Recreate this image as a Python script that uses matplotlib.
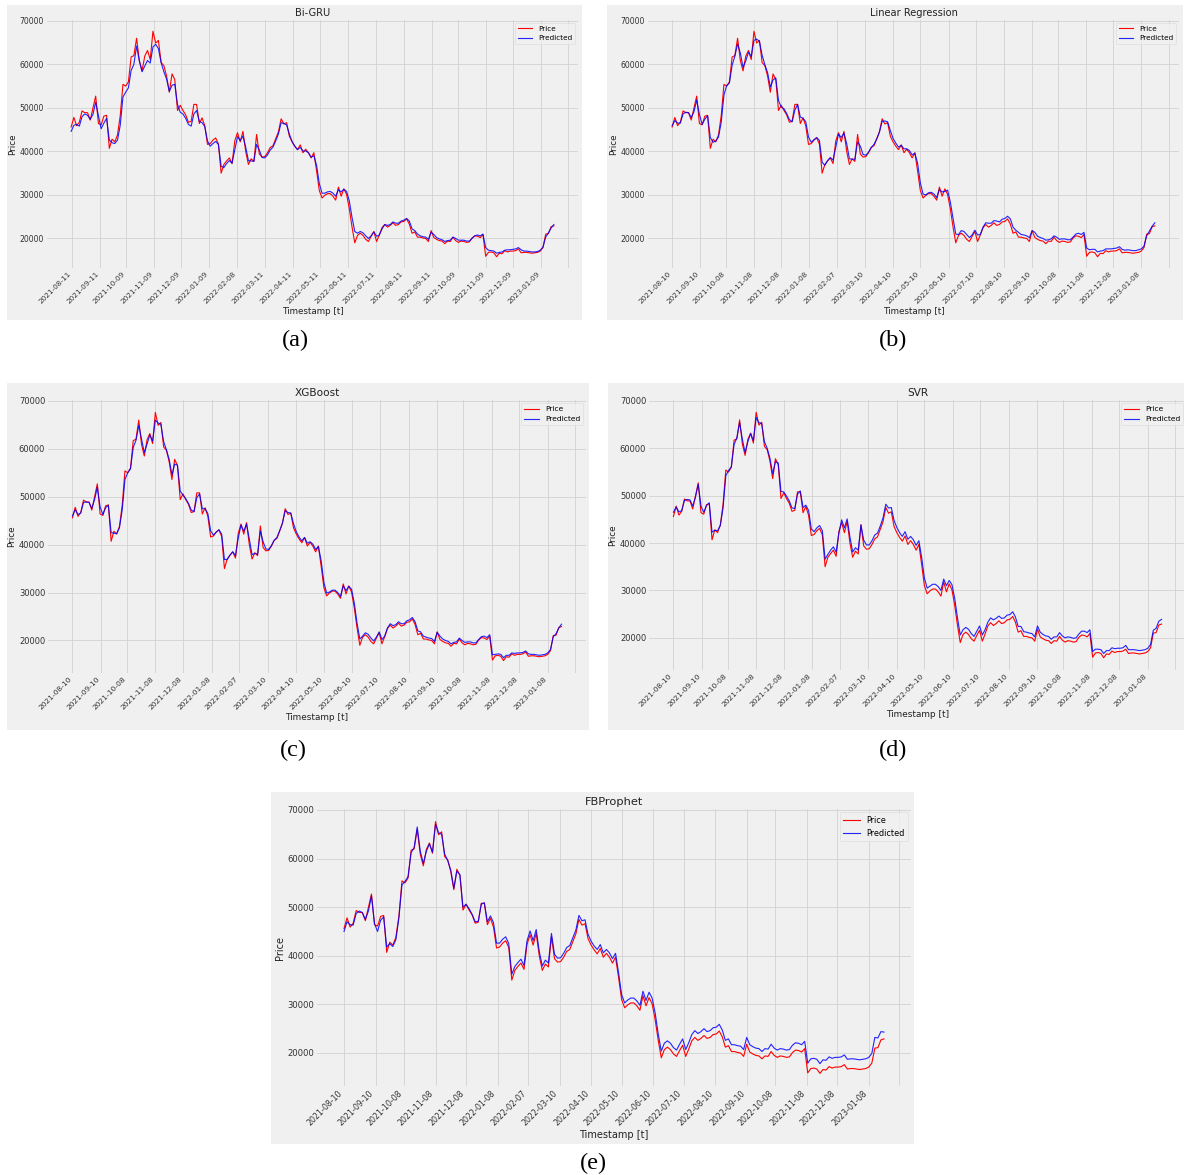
import matplotlib
matplotlib.use("Agg")
import matplotlib.pyplot as plt
import pandas as pd
from matplotlib.patches import Rectangle

# ---------------------------------------------------------------- data
# closing price and model predictions, thousands of USD, one value every 3 days
dates = pd.date_range("2021-08-10", periods=178, freq="3D")

price_k = [
    45.6, 47.8, 45.9, 46.7, 49.3, 48.9, 48.9, 47.2, 50.0, 52.7,
    46.4, 46.1, 48.1, 48.3, 40.7, 42.8, 42.2, 43.8, 48.2, 55.4,
    55.0, 56.0, 61.7, 62.0, 66.0, 60.9, 58.5, 61.9, 63.2, 61.1,
    67.6, 64.9, 65.5, 60.4, 59.7, 57.3, 53.6, 57.8, 56.5, 49.4,
    50.6, 49.4, 48.4, 46.7, 46.9, 50.8, 50.8, 46.4, 47.7, 45.9,
    41.6, 41.8, 42.6, 43.1, 41.7, 35.0, 37.0, 37.8, 38.5, 37.2,
    42.4, 44.3, 42.2, 44.6, 40.0, 37.0, 38.3, 37.7, 43.9, 39.4,
    38.7, 38.8, 39.7, 40.9, 41.3, 42.9, 44.5, 47.5, 46.3, 46.6,
    43.5, 42.2, 41.2, 40.4, 41.5, 39.7, 40.5, 39.7, 38.5, 39.7,
    35.5, 31.0, 29.3, 29.9, 30.3, 30.3, 29.7, 28.8, 31.8, 29.7,
    31.4, 30.1, 26.8, 22.6, 19.0, 20.7, 21.2, 20.7, 19.8, 19.3,
    20.5, 21.6, 19.3, 20.8, 22.5, 23.2, 22.6, 23.0, 23.6, 23.0,
    23.2, 23.8, 23.9, 24.5, 23.3, 21.2, 21.5, 20.3, 20.3, 20.1,
    20.0, 19.3, 21.8, 20.2, 19.8, 19.5, 19.4, 18.8, 19.4, 19.3,
    20.3, 19.5, 19.1, 19.4, 19.3, 19.1, 19.2, 20.1, 20.6, 20.5,
    20.2, 20.9, 15.9, 16.8, 16.9, 16.7, 15.8, 16.6, 16.5, 17.2,
    16.9, 17.1, 17.1, 17.2, 17.6, 16.7, 16.8, 16.8, 16.7, 16.6,
    16.7, 16.8, 17.1, 17.9, 21.0, 21.1, 22.7, 22.9,
]

bigru_k = [
    44.6, 46.0, 46.2, 45.8, 48.0, 48.6, 48.3, 47.4, 48.5, 51.3,
    48.3, 45.2, 46.5, 47.6, 42.6, 42.0, 41.8, 42.6, 46.0, 52.5,
    53.6, 54.6, 58.6, 60.0, 64.2, 60.8, 58.3, 59.6, 60.9, 60.3,
    64.0, 64.6, 63.6, 60.4, 58.3, 56.6, 53.8, 55.2, 55.4, 50.8,
    49.0, 48.6, 47.6, 46.2, 45.8, 48.6, 49.4, 46.9, 46.6, 45.7,
    42.4, 41.2, 41.8, 42.3, 41.6, 36.6, 36.3, 37.2, 37.9, 37.3,
    40.4, 43.4, 42.5, 43.5, 41.0, 37.9, 37.8, 37.7, 41.6, 40.3,
    38.6, 38.5, 39.2, 40.3, 41.0, 42.4, 44.0, 46.6, 46.4, 46.1,
    44.0, 42.3, 41.2, 40.4, 40.9, 40.1, 40.1, 39.7, 38.7, 39.0,
    36.8, 32.6, 30.4, 30.4, 30.7, 30.8, 30.4, 29.7, 31.2, 30.7,
    31.3, 30.8, 28.6, 24.8, 21.6, 21.2, 21.6, 21.3, 20.6, 20.0,
    20.6, 21.5, 20.5, 20.8, 22.2, 23.2, 23.0, 23.2, 23.8, 23.5,
    23.5, 24.0, 24.2, 24.6, 24.0, 22.2, 21.8, 21.0, 20.6, 20.4,
    20.3, 19.8, 21.4, 20.9, 20.2, 19.9, 19.7, 19.3, 19.5, 19.6,
    20.3, 20.0, 19.6, 19.6, 19.6, 19.4, 19.4, 20.0, 20.6, 20.8,
    20.6, 21.0, 17.9, 17.3, 17.2, 17.1, 16.6, 16.8, 16.9, 17.3,
    17.4, 17.4, 17.5, 17.6, 17.9, 17.4, 17.1, 17.1, 17.0, 16.9,
    16.9, 17.0, 17.3, 18.0, 20.3, 21.3, 22.4, 23.2,
]

linreg_k = [
    45.9, 47.1, 46.5, 46.5, 48.6, 49.0, 48.9, 47.8, 49.1, 51.8,
    48.5, 46.2, 47.4, 48.2, 43.2, 42.1, 42.4, 43.3, 46.7, 53.0,
    55.1, 55.7, 59.8, 61.9, 64.7, 62.6, 59.3, 60.8, 62.8, 61.8,
    65.5, 65.8, 65.3, 62.1, 59.9, 58.1, 54.8, 56.4, 56.9, 51.7,
    50.2, 49.8, 48.7, 47.3, 46.8, 49.5, 50.8, 47.9, 47.6, 46.8,
    43.3, 42.1, 42.7, 43.2, 42.5, 37.5, 36.8, 37.9, 38.6, 38.0,
    41.0, 44.0, 43.2, 44.2, 41.8, 38.3, 38.2, 38.2, 42.2, 41.2,
    39.3, 39.1, 39.8, 40.9, 41.6, 42.8, 44.4, 46.9, 47.0, 46.8,
    44.8, 43.0, 41.9, 41.0, 41.4, 40.6, 40.6, 40.2, 39.2, 39.6,
    37.3, 32.8, 30.2, 30.0, 30.5, 30.6, 30.2, 29.4, 31.2, 30.7,
    30.8, 31.1, 28.4, 24.6, 21.0, 20.9, 21.8, 21.6, 20.9, 20.2,
    20.8, 21.9, 20.8, 20.9, 22.6, 23.6, 23.5, 23.5, 24.1, 24.0,
    23.8, 24.4, 24.6, 25.1, 24.5, 22.6, 21.9, 21.4, 20.9, 20.8,
    20.6, 20.2, 21.8, 21.4, 20.5, 20.2, 20.0, 19.6, 19.7, 19.9,
    20.6, 20.3, 19.8, 19.9, 19.9, 19.7, 19.7, 20.3, 21.0, 21.2,
    20.9, 21.4, 17.8, 17.4, 17.5, 17.5, 16.9, 17.1, 17.2, 17.6,
    17.6, 17.6, 17.7, 17.8, 18.1, 17.5, 17.3, 17.4, 17.3, 17.2,
    17.2, 17.4, 17.6, 18.2, 20.6, 21.7, 22.8, 23.6,
]

xgboost_k = [
    46.0, 47.3, 46.3, 46.6, 48.8, 48.9, 48.8, 47.6, 49.4, 52.0,
    47.9, 46.3, 47.7, 48.2, 42.5, 42.4, 42.3, 43.5, 47.2, 53.6,
    55.0, 55.8, 60.3, 61.8, 64.9, 62.1, 59.2, 61.0, 62.9, 61.6,
    66.0, 65.4, 65.1, 61.5, 59.8, 57.8, 54.6, 56.8, 56.6, 51.2,
    50.3, 49.6, 48.6, 47.2, 46.9, 49.8, 50.6, 47.5, 47.5, 46.5,
    42.9, 42.0, 42.6, 43.1, 42.2, 36.9, 36.9, 37.8, 38.5, 37.7,
    41.4, 44.1, 42.8, 44.3, 41.2, 37.9, 38.2, 38.0, 42.8, 40.6,
    39.1, 39.0, 39.8, 40.9, 41.5, 42.9, 44.5, 47.1, 46.7, 46.6,
    44.4, 42.7, 41.6, 40.8, 41.5, 40.3, 40.6, 40.1, 39.0, 39.6,
    36.7, 32.1, 29.9, 30.1, 30.5, 30.5, 30.0, 29.2, 31.4, 30.4,
    31.3, 30.7, 27.8, 23.6, 20.3, 20.9, 21.6, 21.3, 20.5, 19.9,
    20.7, 21.8, 20.2, 20.9, 22.6, 23.5, 23.1, 23.3, 23.9, 23.5,
    23.5, 24.1, 24.3, 24.8, 23.9, 22.0, 21.8, 20.9, 20.7, 20.5,
    20.4, 19.8, 21.7, 20.9, 20.3, 20.0, 19.8, 19.3, 19.6, 19.7,
    20.5, 20.0, 19.6, 19.7, 19.7, 19.5, 19.5, 20.2, 20.8, 20.9,
    20.6, 21.2, 17.0, 17.1, 17.2, 17.1, 16.4, 16.9, 16.9, 17.4,
    17.3, 17.4, 17.4, 17.5, 17.8, 17.2, 17.1, 17.1, 17.0, 16.9,
    17.0, 17.1, 17.4, 18.1, 20.8, 21.4, 22.6, 23.4,
]

svr_k = [
    46.5, 47.6, 46.6, 46.8, 49.0, 49.2, 49.1, 47.8, 49.7, 52.4,
    47.8, 46.5, 47.9, 48.5, 42.3, 42.7, 42.6, 43.7, 47.4, 54.2,
    55.3, 56.1, 60.8, 62.2, 65.4, 61.9, 59.1, 61.4, 63.1, 61.6,
    66.5, 65.4, 65.2, 61.4, 60.0, 57.9, 54.6, 57.2, 56.9, 50.9,
    50.8, 49.9, 48.9, 47.4, 47.3, 50.3, 51.0, 47.5, 48.0, 46.9,
    43.0, 42.4, 43.2, 43.7, 42.6, 36.6, 37.6, 38.5, 39.2, 38.1,
    42.1, 44.9, 43.2, 45.1, 41.3, 38.1, 39.0, 38.5, 43.8, 40.6,
    39.6, 39.6, 40.5, 41.7, 42.1, 43.6, 45.3, 48.2, 47.4, 47.5,
    44.8, 43.3, 42.2, 41.4, 42.4, 40.8, 41.4, 40.7, 39.5, 40.5,
    37.0, 32.6, 30.5, 30.9, 31.3, 31.3, 30.8, 30.0, 32.4, 31.0,
    32.1, 31.2, 28.3, 24.2, 20.6, 21.7, 22.2, 21.8, 20.9, 20.3,
    21.4, 22.5, 20.6, 21.7, 23.3, 24.2, 23.8, 24.1, 24.6, 24.1,
    24.2, 24.8, 24.9, 25.5, 24.4, 22.4, 22.4, 21.3, 21.2, 21.0,
    20.9, 20.2, 22.5, 21.2, 20.7, 20.4, 20.3, 19.7, 20.2, 20.2,
    21.1, 20.4, 20.0, 20.2, 20.1, 19.9, 20.0, 20.8, 21.4, 21.4,
    21.1, 21.7, 17.1, 17.6, 17.6, 17.5, 16.7, 17.3, 17.3, 17.9,
    17.7, 17.8, 17.8, 17.9, 18.4, 17.5, 17.5, 17.5, 17.4, 17.3,
    17.4, 17.5, 17.8, 18.6, 21.6, 22.0, 23.5, 23.9,
]

prophet_k = [
    45.0, 47.0, 46.4, 46.3, 48.7, 49.2, 48.9, 47.5, 49.2, 52.3,
    46.6, 45.0, 47.3, 48.0, 41.8, 42.5, 41.9, 43.3, 47.8, 54.6,
    55.3, 56.3, 61.2, 62.3, 66.5, 61.5, 59.0, 61.5, 63.0, 61.3,
    67.0, 65.3, 65.0, 60.9, 59.6, 57.6, 53.9, 57.4, 56.7, 50.0,
    50.6, 49.7, 48.5, 47.0, 47.1, 50.6, 50.9, 47.0, 48.2, 46.8,
    42.6, 42.6, 43.4, 43.9, 42.5, 36.2, 37.8, 38.6, 39.3, 38.0,
    43.1, 45.1, 43.1, 45.4, 40.9, 37.9, 39.1, 38.5, 44.6, 40.3,
    39.5, 39.6, 40.5, 41.7, 42.1, 43.7, 45.3, 48.3, 47.2, 47.4,
    44.4, 43.0, 42.0, 41.3, 42.3, 40.6, 41.3, 40.6, 39.4, 40.5,
    36.5, 32.0, 30.3, 30.9, 31.3, 31.3, 30.7, 29.8, 32.7, 30.8,
    32.5, 31.3, 28.2, 23.9, 20.4, 22.0, 22.5, 22.0, 21.1, 20.6,
    21.8, 22.9, 20.7, 22.1, 23.8, 24.6, 24.0, 24.4, 25.0, 24.4,
    24.6, 25.2, 25.3, 25.9, 24.7, 22.6, 22.9, 21.7, 21.7, 21.5,
    21.4, 20.7, 23.2, 21.7, 21.3, 21.0, 20.9, 20.3, 20.9, 20.8,
    21.8, 21.0, 20.6, 20.9, 20.8, 20.6, 20.7, 21.6, 22.1, 22.0,
    21.7, 22.4, 17.9, 18.8, 18.9, 18.7, 17.8, 18.6, 18.5, 19.2,
    18.9, 19.1, 19.1, 19.2, 19.6, 18.7, 18.8, 18.8, 18.7, 18.6,
    18.7, 18.8, 19.1, 19.9, 23.2, 23.1, 24.4, 24.3,
]

# x-axis tick dates (the last grid position carries no label)
tick_dates = [
    "2021-08-10", "2021-09-10", "2021-10-08", "2021-11-08", "2021-12-08",
    "2022-01-08", "2022-02-07", "2022-03-10", "2022-04-10", "2022-05-10",
    "2022-06-10", "2022-07-10", "2022-08-10", "2022-09-10", "2022-10-08",
    "2022-11-08", "2022-12-08", "2023-01-08", "2023-02-07",
]
bigru_tick_dates = [
    "2021-08-11", "2021-09-11", "2021-10-09", "2021-11-09", "2021-12-09",
    "2022-01-09", "2022-02-08", "2022-03-11", "2022-04-11", "2022-05-11",
    "2022-06-11", "2022-07-11", "2022-08-11", "2022-09-11", "2022-10-09",
    "2022-11-09", "2022-12-09", "2023-01-09", "2023-02-08",
]

model_names = ["Bi-GRU", "Linear Regression", "XGBoost", "SVR", "FBProphet"]
captions = ["(a)", "(b)", "(c)", "(d)", "(e)"]
predictions = [bigru_k, linreg_k, xgboost_k, svr_k, prophet_k]
model_ticks = [bigru_tick_dates, tick_dates, tick_dates, tick_dates, tick_dates]

# ---------------------------------------------------------------- layout (pixels)
W, H = 1184, 1175
BG = "#f0f0f0"

# panel background box, axes box, caption centre, font sizes
layout = [
    dict(bg=(7, 5, 582, 320), ax=(47, 20, 578, 268), cap=(295, 340),
         title=7.1, label=6.3, ytick=5.6, xtick=5.2, legend=5.2),
    dict(bg=(607, 5, 1183, 320), ax=(648, 20, 1179, 268), cap=(893, 340),
         title=7.1, label=6.3, ytick=5.6, xtick=5.2, legend=5.2),
    dict(bg=(7, 383, 589, 730), ax=(48, 400, 586, 673), cap=(293, 750),
         title=7.6, label=6.4, ytick=6.0, xtick=5.4, legend=5.4),
    dict(bg=(608, 383, 1184, 730), ax=(649, 400, 1186, 670), cap=(893, 750),
         title=7.6, label=6.4, ytick=6.0, xtick=5.4, legend=5.4),
    dict(bg=(271, 792, 914, 1144), ax=(317, 809, 911, 1086), cap=(593, 1163),
         title=8.2, label=7.0, ytick=6.1, xtick=5.7, legend=5.9),
]

fig = plt.figure(figsize=(W / 100, H / 100), dpi=100, facecolor="white")


def fig_box(x0, y0, x1, y1):
    return [x0 / W, 1 - y1 / H, (x1 - x0) / W, (y1 - y0) / H]


for name, cap, pred, ticks, lay in zip(model_names, captions, predictions,
                                       model_ticks, layout):
    bx = fig_box(*lay["bg"])
    fig.patches.append(Rectangle((bx[0], bx[1]), bx[2], bx[3],
                                 transform=fig.transFigure, facecolor=BG,
                                 edgecolor="none", zorder=-5))

    ax = fig.add_axes(fig_box(*lay["ax"]))
    ax.set_facecolor(BG)
    for s in ax.spines.values():
        s.set_visible(False)

    ax.plot(dates, [v * 1000 for v in price_k], color="red", lw=0.8,
            label="Price")
    ax.plot(dates, [v * 1000 for v in pred], color="blue", lw=0.8,
            alpha=0.85, label="Predicted")

    tick_pos = pd.to_datetime(ticks)
    ax.set_xticks(tick_pos)
    ax.set_xticklabels(list(ticks[:-1]) + [""], rotation=45, ha="right",
                       fontsize=lay["xtick"], color="#333333")
    ax.set_yticks([20000, 30000, 40000, 50000, 60000, 70000])
    ax.set_yticklabels(["20000", "30000", "40000", "50000", "60000", "70000"],
                       fontsize=lay["ytick"], color="#333333")
    ax.tick_params(length=0, pad=2)
    ax.grid(True, color="#d2d2d2", lw=0.6)
    ax.set_axisbelow(True)

    ax.set_title(name, fontsize=lay["title"], pad=3, color="#222222")
    ax.set_xlabel("Timestamp [t]", fontsize=lay["label"], labelpad=1.5,
                  color="#222222")
    ax.set_ylabel("Price", fontsize=lay["label"], labelpad=2,
                  color="#222222")

    leg = ax.legend(loc="upper right", fontsize=lay["legend"], frameon=True,
                    borderaxespad=0.4, handlelength=2.0, fancybox=True)
    leg.get_frame().set_facecolor(BG)
    leg.get_frame().set_edgecolor("#dddddd")
    leg.get_frame().set_linewidth(0.6)

    fig.text(lay["cap"][0] / W, 1 - lay["cap"][1] / H, cap,
             fontsize=17.5, family="Liberation Serif", ha="center",
             va="center")

fig.savefig("out.png", dpi=100, facecolor="white")
